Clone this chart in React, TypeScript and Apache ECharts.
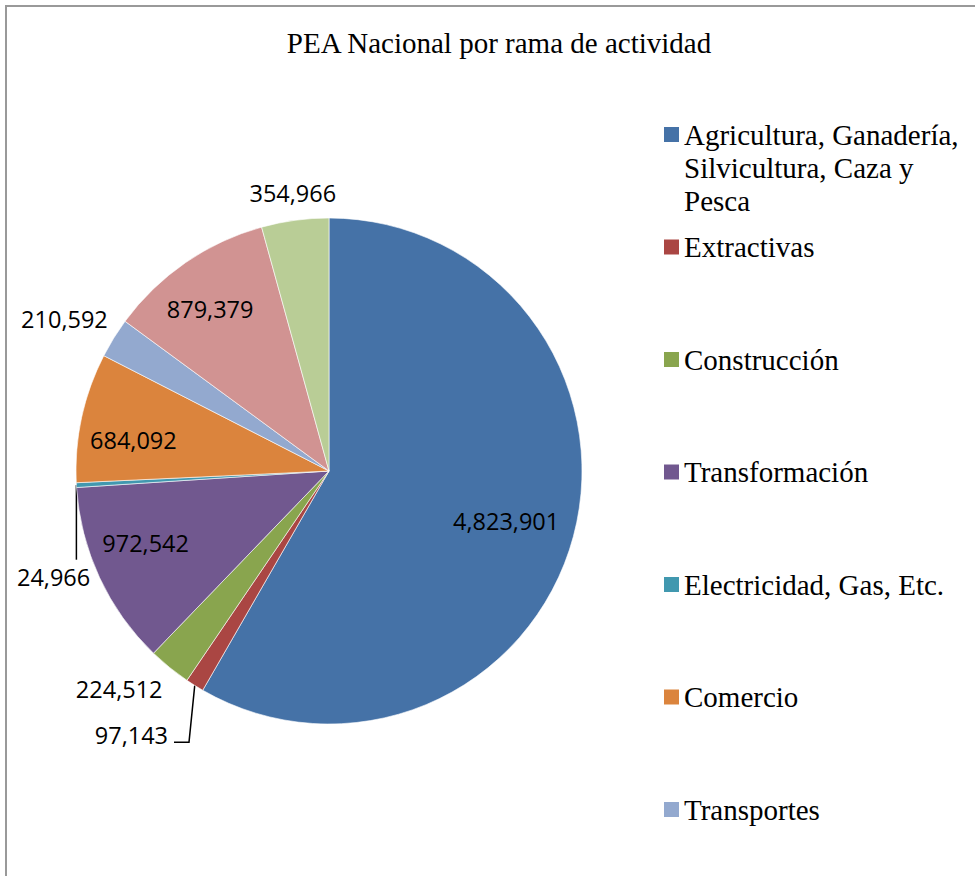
import React, { useEffect, useRef } from "react";
import * as echarts from "echarts";

const titleText = "PEA Nacional por rama de actividad";

const categories = [
  "Agricultura, Ganadería, Silvicultura, Caza y Pesca",
  "Extractivas",
  "Construcción",
  "Transformación",
  "Electricidad, Gas, Etc.",
  "Comercio",
  "Transportes",
  "Servicios",
  "Gobierno",
];

const values = [4823901, 97143, 224512, 972542, 24966, 684092, 210592, 879379, 354966];

const colors = [
  "#4572A7",
  "#AA4643",
  "#89A54E",
  "#71588F",
  "#4198AF",
  "#DB843D",
  "#93A9CF",
  "#D19392",
  "#B9CD96",
];

// Legend text lines as they wrap in the reference
const legendLines = [
  ["Agricultura, Ganadería,", "Silvicultura, Caza y", "Pesca"],
  ["Extractivas"],
  ["Construcción"],
  ["Transformación"],
  ["Electricidad, Gas, Etc."],
  ["Comercio"],
  ["Transportes"],
];

// label placement: radial factor (of radius) and angular shift from the slice mid-angle (deg)
const labelRadius = [0.727, 1.304, 1.195, 0.779, 1.166, 0.783, 1.205, 0.794, 1.107];
const labelShift = [0.7, 4.75, 4.9, 3.4, -17.8, -3.2, -1.9, -1.7, 0.3];

const CX = 329;
const CY = 471;
const R = 253;
const LEGEND_LINE = 33;
const ICON = 15;

export default function App() {
  const ref = useRef<HTMLDivElement>(null);

  useEffect(() => {
    if (!ref.current) return;
    const chart = echarts.init(ref.current, undefined, { renderer: "svg" });

    const total = values.reduce((a, b) => a + b, 0);
    const mids: number[] = [];
    let acc = 0;
    values.forEach((v) => {
      mids.push(((acc + v / 2) / total) * 360);
      acc += v;
    });
    const polar = (deg: number, rr: number): [number, number] => {
      const rad = (deg * Math.PI) / 180;
      return [CX + rr * Math.sin(rad), CY - rr * Math.cos(rad)];
    };

    const legends = legendLines.map((lines, i) => {
      // pad with blank lines above so the first line sits level with the icon
      const pad = lines.length - 1;
      const all = [...Array(pad).fill(""), ...lines];
      const blockH = all.length * LEGEND_LINE;
      const iconTop = 127 + i * 112.5;
      const boxTop = Math.min(0, ICON / 2 - blockH / 2);
      return {
        data: [categories[i]],
        left: 664,
        top: iconTop + boxTop,
        orient: "vertical",
        padding: 0,
        itemWidth: ICON,
        itemHeight: ICON,
        icon: "rect",
        selectedMode: false,
        itemStyle: { borderWidth: 0 },
        formatter: () => all.join("\n"),
        textStyle: {
          fontFamily: "Liberation Serif",
          fontSize: 29,
          color: "#000",
          lineHeight: LEGEND_LINE,
        },
      };
    });

    chart.setOption({
      animation: false,
      backgroundColor: "#fff",
      title: {
        text: titleText,
        left: 499,
        top: 28,
        textAlign: "center",
        padding: 0,
        textStyle: {
          fontFamily: "Liberation Serif",
          fontSize: 29,
          fontWeight: "normal",
          color: "#000",
        },
      },
      legend: legends,
      graphic: [
        {
          type: "rect",
          silent: true,
          shape: { x: 6, y: 6, width: 3000, height: 3000 },
          style: { fill: "none", stroke: "#999", lineWidth: 2 },
        },
      ],
      series: [
        {
          type: "pie",
          center: [CX, CY],
          radius: R,
          startAngle: 90,
          clockwise: true,
          avoidLabelOverlap: false,
          emphasis: { disabled: true },
          itemStyle: { borderColor: "#fff", borderWidth: 0.6 },
          label: {
            show: true,
            position: "outside",
            formatter: (p: any) => Number(p.value).toLocaleString("en-US"),
            color: "#000",
            fontFamily: "Open Sans",
            fontSize: 23.5,
          },
          labelLine: { show: false, lineStyle: { color: "#000", width: 1.5 } },
          data: categories.map((name, i) => ({
            name,
            value: values[i],
            itemStyle: { color: colors[i] },
            labelLine: { show: i === 1 || i === 4, length: 10, length2: 10 },
          })),
          labelLayout: (params: any) => {
            const i = params.dataIndex;
            const [x, y] = polar(mids[i] + labelShift[i], R * labelRadius[i]);
            const res: any = { x, y, align: "center", verticalAlign: "middle" };
            const w = params.labelRect ? params.labelRect.width : 70;
            if (i === 4) {
              const s = polar(mids[i], R);
              res.labelLinePoints = [s, [s[0], y - 17], [s[0], y - 17]];
            }
            if (i === 1) {
              const s = polar(mids[i], R);
              const right = x + w / 2;
              res.labelLinePoints = [s, [right + 21, y + 7], [right + 6, y + 7]];
            }
            return res;
          },
        },
      ],
    });

    return () => chart.dispose();
  }, []);

  return (
    <div
      ref={ref}
      style={{ position: "fixed", left: 0, top: 0, width: 975, height: 876 }}
    />
  );
}
